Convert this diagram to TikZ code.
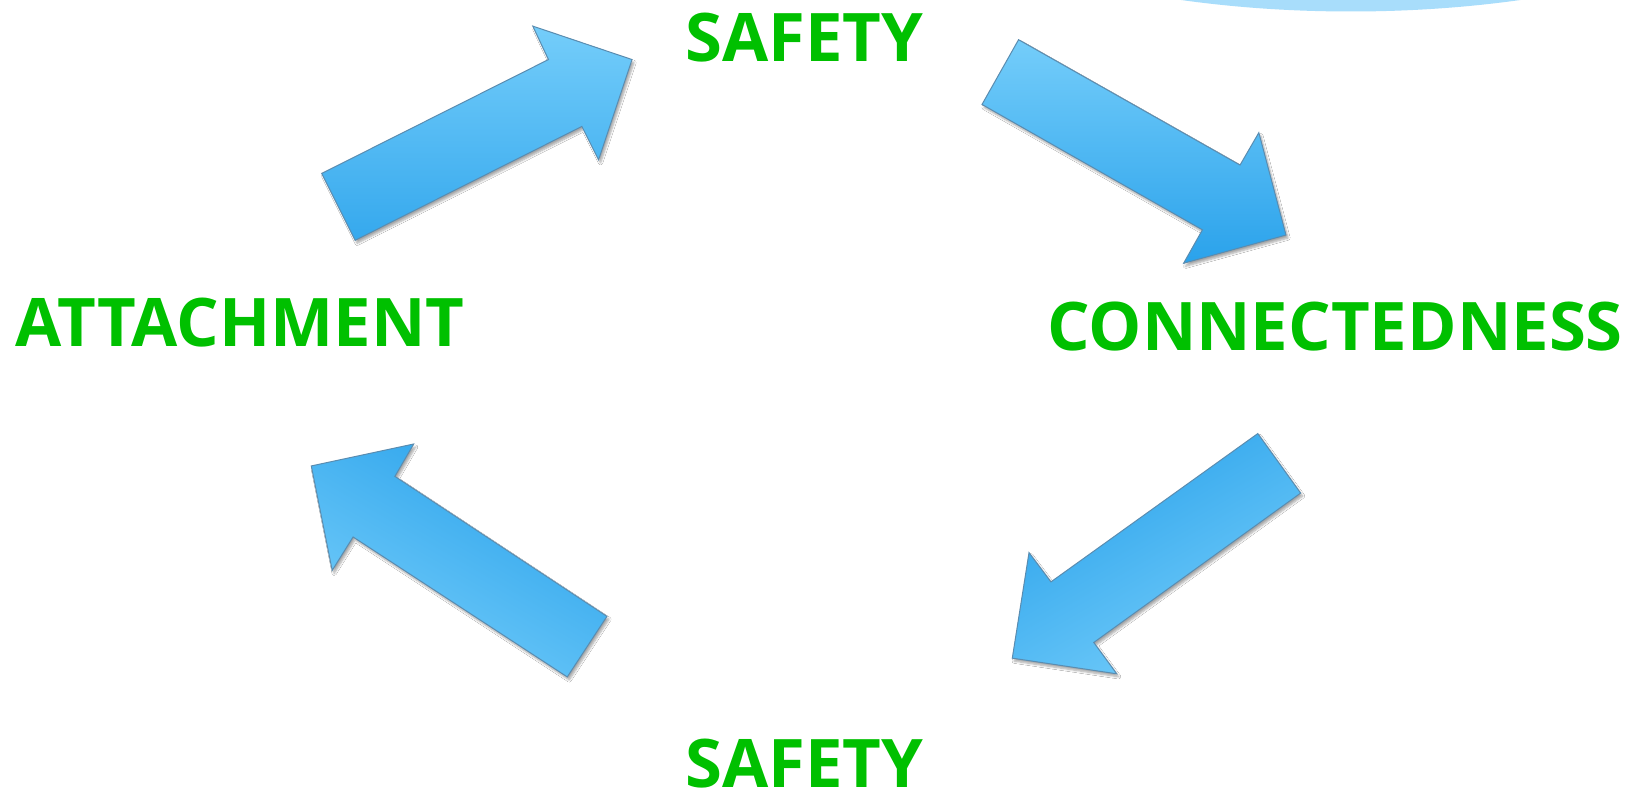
\documentclass[tikz,border=0pt]{standalone}
\usepackage{fontspec}
\setmainfont{Open Sans}
\usetikzlibrary{shadows.blur}
\definecolor{lbl}{HTML}{00C000}
\definecolor{alight}{HTML}{74CDFA}
\definecolor{adark}{HTML}{2AA2EB}
\definecolor{aedge}{HTML}{5A8CB0}
\definecolor{blob}{HTML}{A8DDFB}
\tikzset{
  lab/.style={text=lbl, font=\bfseries\fontsize{67}{67}\selectfont, inner sep=0pt, anchor=center},
  arr/.style={draw=aedge, line width=1pt, line join=miter,
    blur shadow={shadow xshift=2pt, shadow yshift=-3pt, shadow blur steps=6, shadow opacity=35}},
}
\begin{document}
\begin{tikzpicture}[x=1.0447pt,y=-1.0447pt]
\useasboundingbox (0,0) rectangle (1567,760);
\fill[white] (0,0) rectangle (1567,760);
% light blue blob top right
\begin{scope}
\clip (0,0) rectangle (1567,760);
\fill[blob] (1293,-200) ellipse [x radius=508, y radius=211];
\end{scope}
% labels
\node[lab] (s1) at (770,36) {SAFETY};
\node[lab] (con) at (1278,313) {CONNECTEDNESS};
\node[lab] (att) at (230,309) {ATTACHMENT};
\node[lab] (s2) at (770,731) {SAFETY};
% arrows
\path[arr, top color=alight, bottom color=adark!85!alight]
  (308,166) -- (525,57) -- (510,25) -- (605,57) -- (573,153) -- (557,121) -- (340,230) -- cycle;
\path[arr, shading angle=20, top color=alight, bottom color=adark]
  (975,38) -- (1187,158) -- (1205,127) -- (1231,225) -- (1133,252) -- (1151,220) -- (940,100) -- cycle;
\path[arr, left color=adark, right color=alight, shading angle=30]
  (1204,415) -- (1006,557) -- (985,529) -- (969,630) -- (1069,645) -- (1047,615) -- (1245,472) -- cycle;
\path[arr, left color=adark, right color=alight, shading angle=-30]
  (581,590) -- (378,456) -- (396,425) -- (298,446) -- (318,546) -- (338,514) -- (543,648) -- cycle;
\end{tikzpicture}
\end{document}
